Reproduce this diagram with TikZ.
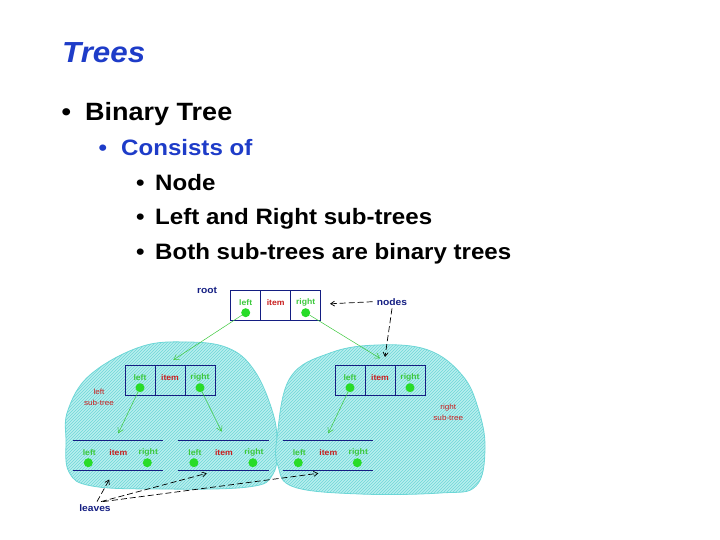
\documentclass[tikz,border=0pt]{standalone}
\usepackage{fontspec}
\setmainfont{Liberation Sans}[FakeStretch=1.08]
\usetikzlibrary{arrows.meta,patterns}
\definecolor{titleblue}{RGB}{30,60,200}
\definecolor{boxblue}{RGB}{20,30,130}
\definecolor{dotgreen}{RGB}{40,220,40}
\definecolor{txtgreen}{RGB}{60,200,60}
\definecolor{txtred}{RGB}{200,30,30}
\definecolor{blobfill}{RGB}{185,238,238}
\definecolor{blobline}{RGB}{110,215,215}
\begin{document}
\begin{tikzpicture}[x=1pt,y=-1pt,
  cellbox/.style={draw=boxblue, line width=0.9pt, minimum width=30pt, minimum height=30pt, inner sep=0pt},
  lab/.style={font=\fontsize{8}{9}\selectfont\bfseries, inner sep=0pt},
  lgreen/.style={lab, text=txtgreen},
  lred/.style={lab, text=txtred},
  sublab/.style={font=\fontsize{7.5}{8.5}\selectfont, text=txtred, inner sep=0pt},
  gdot/.style={circle, fill=dotgreen, minimum size=9pt, inner sep=0pt},
  garrow/.style={draw=txtgreen, line width=0.5pt, -{Straight Barb[length=5pt,width=6pt]}},
  karrow/.style={draw=black, line width=0.7pt, dash pattern=on 6pt off 3pt, -{Straight Barb[length=4pt,width=5pt]}},
  blob/.style={draw=blobline, line width=0.8pt, fill=blobfill, postaction={pattern=north east lines, pattern color=blobline}},
  bluelab/.style={font=\fontsize{9.5}{10}\selectfont\bfseries, text=boxblue, inner sep=0pt},
  leafbox/.style={minimum width=90pt, minimum height=29.3pt, inner sep=0pt},
  leafline/.style={draw=boxblue, line width=0.9pt},
  txt/.style={anchor=base west, inner sep=0pt}
]
\useasboundingbox (0,0) rectangle (720,540);

% ---------- text ----------
\node[txt, font=\fontsize{29}{32}\selectfont\bfseries\itshape, text=titleblue] (title) at (62,62.3) {Trees};
\node[txt, font=\fontsize{25}{28}\selectfont\bfseries] (b1) at (61.5,120.7) {•};
\node[txt, font=\fontsize{25}{28}\selectfont\bfseries] (t1) at (85,120.7) {Binary Tree};
\node[txt, font=\fontsize{22.3}{25}\selectfont\bfseries, text=titleblue] (b2) at (98.5,155.7) {•};
\node[txt, font=\fontsize{22.3}{25}\selectfont\bfseries, text=titleblue] (t2) at (121,155.7) {Consists of};
\node[txt, font=\fontsize{22.3}{25}\selectfont\bfseries] (b3) at (136,190.7) {•};
\node[txt, font=\fontsize{22.3}{25}\selectfont\bfseries] (t3) at (155,190.7) {Node};
\node[txt, font=\fontsize{22.3}{25}\selectfont\bfseries] (b4) at (136,224.3) {•};
\node[txt, font=\fontsize{22.3}{25}\selectfont\bfseries] (t4) at (155,224.3) {Left and Right sub-trees};
\node[txt, font=\fontsize{22.3}{25}\selectfont\bfseries] (b5) at (136,259.3) {•};
\node[txt, font=\fontsize{22.3}{25}\selectfont\bfseries] (t5) at (155,259.3) {Both sub-trees are binary trees};

% ---------- blobs ----------
\path[blob] plot[smooth cycle, tension=0.65] coordinates {
  (66,440) (68,410) (90,375) (140,347) (187,342) (228,348) (254,370)
  (272,410) (277,442) (273,474) (248,487) (160,489) (92,486) (69,472)};
\path[blob] plot[smooth cycle, tension=0.65] coordinates {
  (277,438) (290,378) (330,353) (378,345) (428,350) (462,375)
  (478,408) (485,448) (476,486) (440,493) (360,494) (294,487) (278,466)};

% ---------- boxed nodes ----------
\foreach \n/\x/\y in {r/275.7/305, a/170/380, b/380/380}{
  \node[cellbox] (\n L) at (\x-30,\y) {};
  \node[cellbox] (\n I) at (\x,\y) {};
  \node[cellbox] (\n R) at (\x+30,\y) {};
  \node[lgreen] (\n Lt) at (\x-30,\y-2.5) {left};
  \node[lred]   (\n It) at (\x,\y-2.5) {item};
  \node[lgreen] (\n Rt) at (\x+30,\y-2.5) {right};
  \node[gdot] (\n Ld) at (\x-30,\y+7.7) {};
  \node[gdot] (\n Rd) at (\x+30,\y+7.7) {};
}

% ---------- leaves ----------
\foreach \n/\x in {c/117.7, d/223.3, e/327.7}{
  \node[leafbox] (\n) at (\x,455.3) {};
  \draw[leafline] (\n.north west) -- (\n.north east);
  \draw[leafline] (\n.south west) -- (\n.south east);
  \node[lgreen] (\n Lt) at (\x-28.4,452.7) {left};
  \node[lred]   (\n It) at (\x+0.6,452.7) {item};
  \node[lgreen] (\n Rt) at (\x+30.6,452.7) {right};
  \node[gdot] (\n Ld) at (\x-29.4,462.7) {};
  \node[gdot] (\n Rd) at (\x+29.6,462.7) {};
}

% ---------- labels ----------
\node[bluelab] (root) at (207,290) {root};
\node[bluelab] (nodes) at (392,301.7) {nodes};
\node[bluelab] (leaves) at (95,508.3) {leaves};
\node[sublab] (ls1) at (99,391.7) {left};
\node[sublab] (ls2) at (99,402.7) {sub-tree};
\node[sublab] (rs1) at (448.3,407.5) {right};
\node[sublab] (rs2) at (448.3,418) {sub-tree};

% ---------- green pointers ----------
\coordinate (pa) at (173.3,360);
\coordinate (pb) at (380,358.3);
\coordinate (pc) at (118.3,433.3);
\coordinate (pd) at (221.7,431.7);
\coordinate (pe) at (328.3,433.3);
\draw[garrow] (rLd) -- (pa);
\draw[garrow] (rRd) -- (pb);
\draw[garrow] (aLd) -- (pc);
\draw[garrow] (aRd) -- (pd);
\draw[garrow] (bLd) -- (pe);

% ---------- black dashed pointers ----------
\coordinate (nr) at (330,303.8);
\coordinate (nb) at (385,357);
\coordinate (lc) at (109.3,479.5);
\coordinate (ld) at (206.7,473.3);
\coordinate (le) at (318.3,473.3);
\draw[karrow] (nodes.west) ++(-4,0) -- (nr);
\draw[karrow] ([shift={(0,3)}]nodes.south) -- (nb);
\draw[karrow] ([shift={(2,-3)}]leaves.north) -- (lc);
\draw[karrow] ([shift={(6,-3)}]leaves.north) -- (ld);
\draw[karrow] ([shift={(8,-3)}]leaves.north) -- (le);
\end{tikzpicture}
\end{document}
